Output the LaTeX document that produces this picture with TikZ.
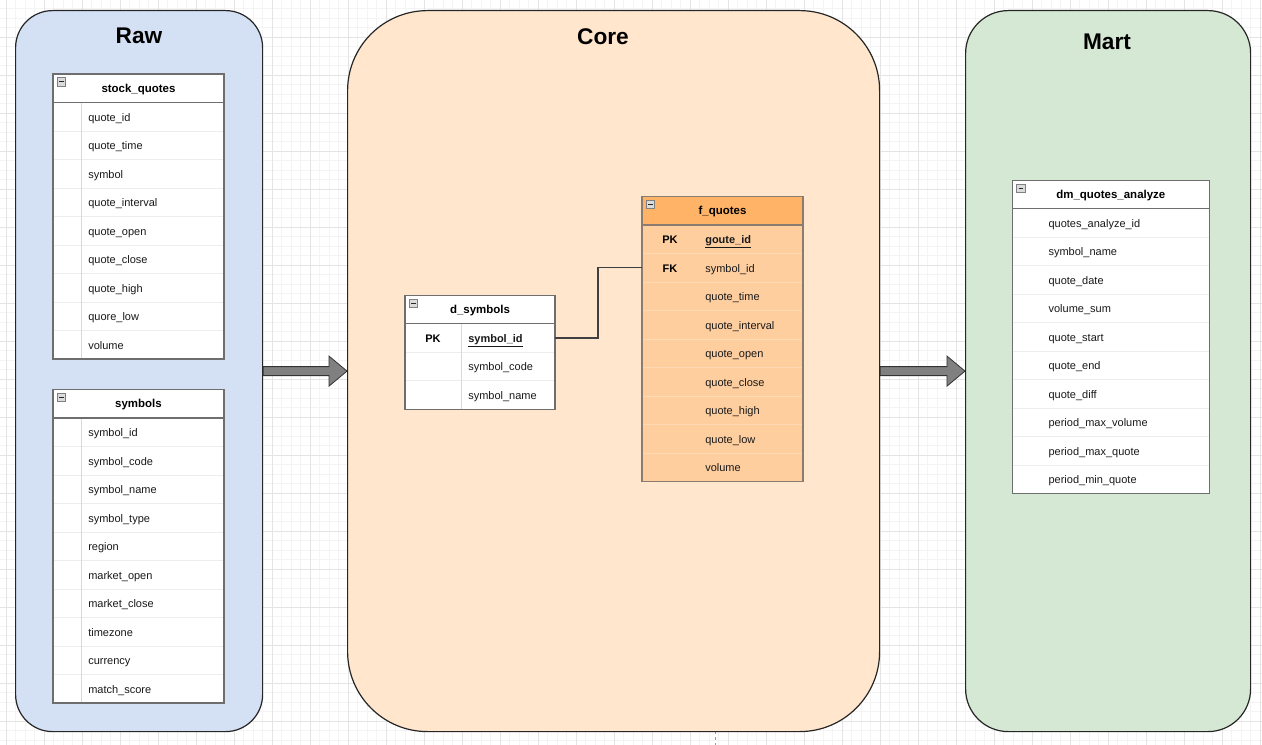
\documentclass[tikz,border=0pt]{standalone}
\usepackage{fontspec}
\setmainfont{Liberation Sans}
\usetikzlibrary{calc}

\definecolor{rawfill}{HTML}{D4E1F5}
\definecolor{corefill}{HTML}{FFE6CC}
\definecolor{martfill}{HTML}{D5E8D4}
\definecolor{gridminor}{HTML}{F4F4F4}
\definecolor{gridmajor}{HTML}{E4E4E4}
\definecolor{fqhead}{HTML}{FFB366}
\definecolor{fqbody}{HTML}{FFCE9F}
\definecolor{fqline}{HTML}{FFDAB5}
\definecolor{tbledge}{HTML}{6E6E6E}
\definecolor{fqedge}{HTML}{8A7C70}
\definecolor{arrowfill}{HTML}{808080}

\tikzset{
  container/.style={draw=black!85, line width=0.9pt, inner sep=0pt, anchor=north west},
  zonetitle/.style={font=\bfseries\fontsize{17}{20}\selectfont},
  tbltitle/.style={inner sep=0pt, text height=6pt, text depth=1.8pt,
    font=\bfseries\fontsize{8.6}{10}\selectfont},
  fieldtxt/.style={anchor=west, inner sep=0pt, text height=6pt, text depth=1.8pt,
    font=\fontsize{8.25}{10}\selectfont, text=black!90},
  keytxt/.style={inner sep=0pt, text height=6pt, text depth=1.8pt,
    font=\bfseries\fontsize{8.25}{10}\selectfont},
  minusbox/.style={fill=black!14, draw=black!50, line width=0.45pt},
  minusbar/.style={draw=black!85, line width=0.7pt},
  % palette: plain white table with key column line
  plhead/.style={fill=white}, plbody/.style={fill=white},
  plrow/.style={draw=black!7, line width=0.7pt},
  plkey/.style={draw=black!15, line width=0.7pt},
  pledge/.style={draw=tbledge, line width=0.8pt},
  % palette: plain white table without key column line
  pnhead/.style={fill=white}, pnbody/.style={fill=white},
  pnrow/.style={draw=black!7, line width=0.7pt},
  pnkey/.style={draw=none},
  pnedge/.style={draw=tbledge, line width=0.8pt},
  % palette: orange fact table
  orhead/.style={fill=fqhead}, orbody/.style={fill=fqbody},
  orrow/.style={draw=fqline, line width=0.7pt},
  orkey/.style={draw=none},
  oredge/.style={draw=fqedge, line width=0.8pt},
  blockarrow/.style={fill=arrowfill, draw=black!80, line width=0.6pt, line join=miter},
  fklink/.style={draw=black!75, line width=1.1pt},
}

% #1 name, #2 left, #3 top, #4 right, #5 key column width,
% #6 title, #7 row count, #8 rows as key/field, #9 palette prefix
\newcommand\ErTable[9]{%
  \pgfmathsetmacro\erHb{#3+28.5}%
  \pgfmathsetmacro\erB{#3+28.5*(#7+1)}%
  \fill[#9body] (#2,\erHb) rectangle (#4,\erB);
  \fill[#9head] (#2,#3) rectangle (#4,\erHb);
  \foreach \k/\f [count=\i] in {#8} {%
    \pgfmathsetmacro\erY{\erHb+28.5*(\i-0.5)}%
    \pgfmathsetmacro\erT{\erY+1.5}%
    \ifnum\i>1
      \draw[#9row] (#2,{\erHb+28.5*(\i-1)}) -- (#4,{\erHb+28.5*(\i-1)});
    \fi
    \node[keytxt] (#1-k\i) at ({#2+#5/2},\erT) {\k};
    \node[fieldtxt] (#1-f\i) at ({#2+#5+7},\erT) {\f};
    \coordinate (#1-l\i) at (#2,\erY);
    \coordinate (#1-r\i) at (#4,\erY);
  }
  \draw[#9key] ({#2+#5},\erHb) -- ({#2+#5},\erB);
  \draw[#9edge] (#2,\erHb) -- (#4,\erHb);
  \draw[#9edge] (#2,#3) rectangle (#4,\erB);
  \node[tbltitle] (#1) at ({(#2+#4)/2},{#3+15.5}) {#6};
  \draw[minusbox] ({#2+4.3},{#3+3.7}) rectangle ++(8.4,8.4);
  \draw[minusbar] ({#2+6.2},{#3+7.9}) -- ++(4.9,0);
}

\begin{document}
\begin{tikzpicture}[x=0.75pt, y=-0.75pt]
  \useasboundingbox (0,0) rectangle (1262,745);
  \fill[white] (0,0) rectangle (1262,745);

  % canvas grid
  \foreach \gx in {-3.5,6,...,1262} \draw[gridminor, line width=0.6pt] (\gx,0) -- (\gx,745);
  \foreach \gy in {-1,8.5,...,745} \draw[gridminor, line width=0.6pt] (0,\gy) -- (1262,\gy);
  \foreach \gx in {6,44,...,1262} \draw[gridmajor, line width=0.6pt] (\gx,0) -- (\gx,745);
  \foreach \gy in {37,75,...,745} \draw[gridmajor, line width=0.6pt] (0,\gy) -- (1262,\gy);
  \draw[black!40, line width=0.6pt, dash pattern=on 2.5pt off 2pt] (715.7,731) -- (715.7,745);

  % layer containers
  \node[container, fill=rawfill, rounded corners=27.75pt,
        minimum width=185.25pt, minimum height=540.75pt] (raw) at (15,10) {};
  \node[container, fill=corefill, rounded corners=60pt,
        minimum width=399pt, minimum height=540.75pt] (core) at (347,10) {};
  \node[container, fill=martfill, rounded corners=32pt,
        minimum width=213.75pt, minimum height=540.75pt] (mart) at (965,10) {};

  \node[zonetitle] (rawtitle) at (139,36) {Raw};
  \node[zonetitle] (coretitle) at (603,37) {Core};
  \node[zonetitle] (marttitle) at (1107,42) {Mart};

  % raw layer tables
  \ErTable{sq}{53}{74}{224}{28}{stock\_quotes}{9}{%
    {}/quote\_id, {}/quote\_time, {}/symbol, {}/quote\_interval, {}/quote\_open,
    {}/quote\_close, {}/quote\_high, {}/quore\_low, {}/volume}{pl}
  \ErTable{sy}{53}{389.5}{224}{28}{symbols}{10}{%
    {}/symbol\_id, {}/symbol\_code, {}/symbol\_name, {}/symbol\_type, {}/region,
    {}/market\_open, {}/market\_close, {}/timezone, {}/currency, {}/match\_score}{pl}

  % core layer tables
  \ErTable{ds}{405}{295.3}{555}{56}{d\_symbols}{3}{%
    PK/\underline{\textbf{symbol\_id}}, {}/symbol\_code, {}/symbol\_name}{pl}
  \ErTable{fq}{642}{196.5}{803}{56}{f\_quotes}{9}{%
    PK/\underline{\textbf{goute\_id}}, FK/symbol\_id, {}/quote\_time, {}/quote\_interval,
    {}/quote\_open, {}/quote\_close, {}/quote\_high, {}/quote\_low, {}/volume}{or}

  % mart layer table
  \ErTable{dm}{1012.3}{180.3}{1209.3}{29}{dm\_quotes\_analyze}{10}{%
    {}/quotes\_analyze\_id, {}/symbol\_name, {}/quote\_date, {}/volume\_sum,
    {}/quote\_start, {}/quote\_end, {}/quote\_diff, {}/period\_max\_volume,
    {}/period\_max\_quote, {}/period\_min\_quote}{pn}

  % foreign key link
  \draw[fklink] (ds-r1) -- ++(43,0) |- (fq-l2);

  % flow arrows between layers
  \draw[blockarrow] ($(raw.east)+(0,-4.5)$) -- ($(core.west)+(-18,-4.5)$)
    -- ($(core.west)+(-18,-15)$) -- (core.west) -- ($(core.west)+(-18,15)$)
    -- ($(core.west)+(-18,4.5)$) -- ($(raw.east)+(0,4.5)$) -- cycle;
  \draw[blockarrow] ($(core.east)+(0,-4.5)$) -- ($(mart.west)+(-18,-4.5)$)
    -- ($(mart.west)+(-18,-15)$) -- (mart.west) -- ($(mart.west)+(-18,15)$)
    -- ($(mart.west)+(-18,4.5)$) -- ($(core.east)+(0,4.5)$) -- cycle;
\end{tikzpicture}
\end{document}
